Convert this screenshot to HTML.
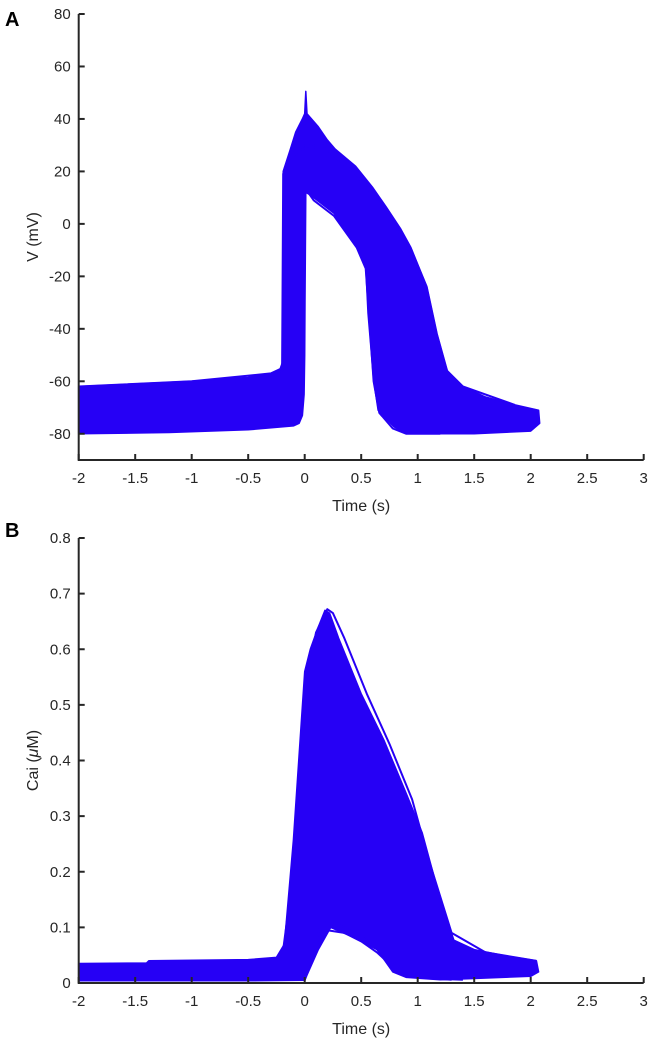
<!DOCTYPE html>
<html><head><meta charset="utf-8">
<style>
html,body{margin:0;padding:0;background:#fff;}
svg{display:block;font-family:"Liberation Sans",Arial,sans-serif;}
</style></head>
<body>
<svg id="fig" width="650" height="1039" viewBox="0 0 650 1039">
<text x="5" y="26" font-size="20" font-weight="bold">A</text>
<text x="5" y="537" font-size="20" font-weight="bold">B</text>
<g id="chartA"></g>
<g id="chartB"></g>
</svg>
<script>
// ---- data: panel A (membrane voltage, mV) ----
const xTicks = [-2,-1.5,-1,-0.5,0,0.5,1,1.5,2,2.5,3];
const xTickLabels = ["-2","-1.5","-1","-0.5","0","0.5","1","1.5","2","2.5","3"];
const vTicks = [-80,-60,-40,-20,0,20,40,60,80];
const vTickLabels = ["-80","-60","-40","-20","0","20","40","60","80"];
const vEnvT = [-2,-1,-0.5,-0.3,-0.22,-0.19,-0.19,-0.13,-0.08,-0.02,0,0.01,0.02,0.12,0.2,0.27,0.45,0.6,0.72,0.85,0.94,1.08,1.17,1.26,1.4,1.6,1.86,2.07,2.08,2.0,1.5,1.0,0.9,0.79,0.65,0.61,0.56,0.54,0.46,0.26,0.05,0.01,0.003,0.0,-0.005,-0.02,-0.05,-0.1,-0.5,-1.2,-2];
const vEnvV = [-62,-60,-58.5,-57,-55.6,-52,20,28,35,40,42,50.5,42,37,32,28.5,22,14,6.5,-2,-9,-24,-42,-56,-62,-66,-69,-71,-76,-79,-80,-80,-80,-77.4,-71,-59.5,-34,-16,-8.7,4,11,12,-30,-50,-65,-73,-76,-77,-78.5,-79.5,-80];
const vTraceT1 = [-2,-1,-0.3,-0.2,-0.19,-0.15,-0.05,0.1,0.27,0.45,0.6,0.72,0.85,0.94,1.08,1.17,1.26,1.4,1.86];
const vTraceV1 = [-62,-60,-57,-55,19,24,28,31,28,21.5,13.5,6,-2.5,-9.5,-24,-42,-56,-62,-69];
const vTraceT2 = [-2,-1,-0.4,-0.2,-0.15,-0.1,0,0.2,0.45,0.7,0.9,1.05,1.15,1.3,1.6,2.05];
const vTraceV2 = [-64,-62,-59,-56,-54,27,30,28,19,6,-8,-24,-45,-60,-67,-71];
const vTraceT3 = [0,0.03,0.08,0.26,0.46,0.54,0.57,0.61,0.66,0.78,0.9,1.2];
const vTraceV3 = [38,12,9,3,-9,-17,-35,-60,-72,-78,-80,-80];

// ---- data: panel B (intracellular calcium, uM) ----
const cTicks = [0,0.1,0.2,0.3,0.4,0.5,0.6,0.7,0.8];
const cTickLabels = ["0","0.1","0.2","0.3","0.4","0.5","0.6","0.7","0.8"];
const cEnvT = [-2,-1.4,-1.38,-0.5,-0.25,-0.18,-0.1,0.0,0.05,0.12,0.18,0.22,0.3,0.5,0.7,0.9,1.04,1.2,1.32,1.5,1.8,2.05,2.07,2.0,1.5,1.2,0.9,0.78,0.64,0.4,0.23,0.12,0.0,-0.5,-2];
const cEnvC = [0.035,0.036,0.04,0.042,0.046,0.07,0.257,0.56,0.6,0.64,0.67,0.665,0.62,0.52,0.437,0.34,0.27,0.15,0.077,0.06,0.048,0.04,0.02,0.012,0.008,0.006,0.01,0.02,0.06,0.085,0.10,0.06,0.005,0.004,0.004];
const cTraceT1 = [-0.2,-0.1,0.0,0.1,0.2,0.25,0.35,0.55,0.75,0.95,1.1,1.3,1.6,2.05];
const cTraceC1 = [0.045,0.2,0.52,0.63,0.672,0.665,0.62,0.52,0.43,0.33,0.22,0.09,0.055,0.04];
const cTraceT2 = [0.0,0.1,0.2,0.35,0.5,0.64,0.8,1.0,1.3];
const cTraceC2 = [0.005,0.06,0.095,0.09,0.075,0.055,0.025,0.01,0.006];
const cTraceT3 = [0.0,0.05,0.15,0.3,0.5,0.7,0.9,1.1,1.4];
const cTraceC3 = [0.005,0.04,0.11,0.105,0.085,0.05,0.02,0.008,0.006];

const NS = "http://www.w3.org/2000/svg";
const COLOR = "#2600f5";
function mk(tag, attrs, parent){
  const e = document.createElementNS(NS, tag);
  for (const k in attrs) e.setAttribute(k, attrs[k]);
  parent.appendChild(e);
  return e;
}
const X0 = 78.7, X1 = 643.7, T0 = -2, T1 = 3;
function xs(t){ return X0 + (t - T0) / (T1 - T0) * (X1 - X0); }

function drawPanel(g, top, bottom, ymin, ymax, yTicks, yLabels, ylabel, envT, envY, traces){
  const ys = v => bottom - (v - ymin) / (ymax - ymin) * (bottom - top);
  const pts = envT.map((t,i)=>xs(t).toFixed(1)+","+ys(envY[i]).toFixed(1)).join(" ");
  const env = mk("polygon", {points: pts, fill: COLOR, stroke: COLOR, "stroke-width": 1.5, "stroke-linejoin": "round"}, g);
  
  
  traces.forEach((tr, k) => {
    const p = tr[0].map((t,i)=>xs(t).toFixed(1)+","+ys(tr[1][i]).toFixed(1)).join(" ");
    const pl = mk("polyline", {points: p, fill: "none", stroke: COLOR, "stroke-width": 2, "stroke-linejoin": "round"}, g);
    
    
  });
  const ax = mk("path", {d: `M${X0},${top} V${bottom} H${X1}`, fill: "none", stroke: "#262626", "stroke-width": 2}, g);
  
  
  xTicks.forEach((t,i)=>{
    const x = xs(t);
    const tk = mk("line", {x1: x, x2: x, y1: bottom, y2: bottom - 6, stroke: "#262626", "stroke-width": 2}, g);
    
    
    const lb = mk("text", {x: x, y: bottom + 23, "font-size": 15, "text-anchor": "middle", fill: "#262626"}, g);
    lb.textContent = xTickLabels[i];
    
    
  });
  yTicks.forEach((v,i)=>{
    const y = ys(v);
    const tk = mk("line", {x1: X0, x2: X0 + 6, y1: y, y2: y, stroke: "#262626", "stroke-width": 2}, g);
    
    
    const lb = mk("text", {x: X0 - 8, y: y + 5, "font-size": 15, "text-anchor": "end", fill: "#262626"}, g);
    lb.textContent = yLabels[i];
    
    
  });
  const xt = mk("text", {x: xs(0.5), y: bottom + 51, "font-size": 16, "text-anchor": "middle", fill: "#262626"}, g);
  xt.textContent = "Time (s)";
  
  
  const cy = (top + bottom) / 2;
  const yt = mk("text", {x: 38, y: cy, "font-size": 16, "text-anchor": "middle", fill: "#262626", transform: `rotate(-90 38 ${cy})`}, g);
  yt.innerHTML = ylabel;
  
  
}

drawPanel(document.getElementById("chartA"), 14, 460, -90, 80, vTicks, vTickLabels, "V (mV)",
  vEnvT, vEnvV, [[vTraceT1,vTraceV1],[vTraceT2,vTraceV2],[vTraceT3,vTraceV3]]);
drawPanel(document.getElementById("chartB"), 538, 983, 0, 0.8, cTicks, cTickLabels, 'Cai (<tspan font-style="italic">μ</tspan>M)',
  cEnvT, cEnvC, [[cTraceT1,cTraceC1],[cTraceT2,cTraceC2],[cTraceT3,cTraceC3]]);
</script>
</body></html>
